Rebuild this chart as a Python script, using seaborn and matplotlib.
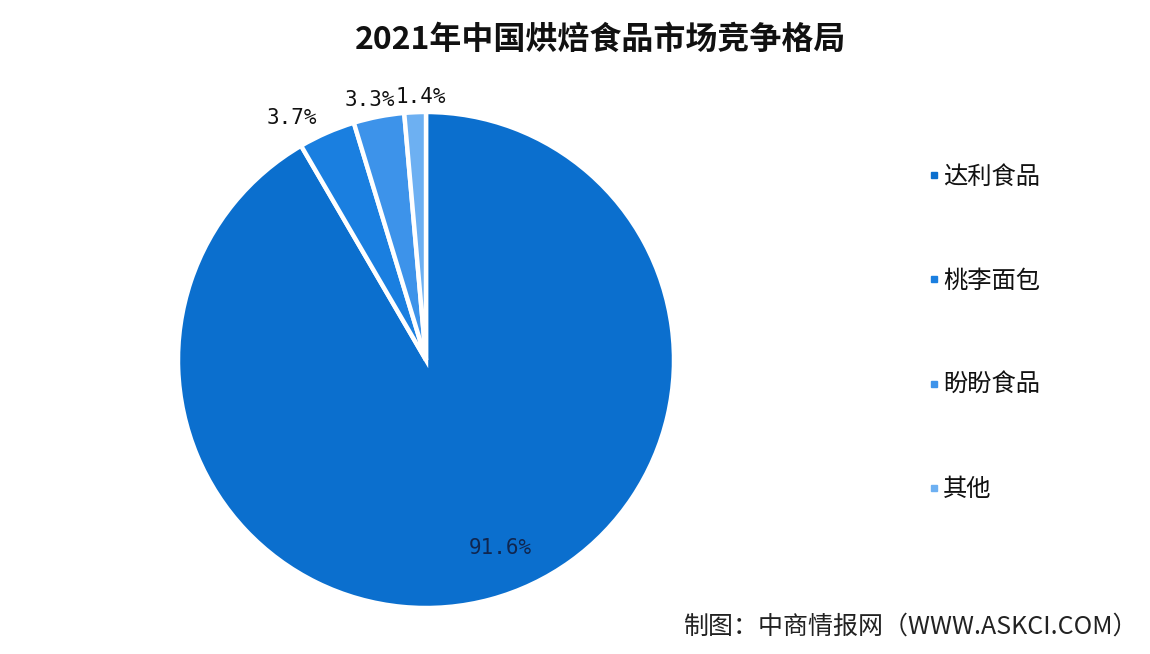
import matplotlib
matplotlib.use("Agg")
import matplotlib.pyplot as plt
from matplotlib.lines import Line2D
import seaborn as sns

categories = ["达利食品", "桃李面包", "盼盼食品", "其他"]
shares = [91.6, 3.7, 3.3, 1.4]
pct_labels = ["91.6%", "3.7%", "3.3%", "1.4%"]
colors = ["#0B6FCE", "#1A7FE0", "#3D93EA", "#6DB0F2"]

sns.set_theme(style="white")
plt.rcParams["font.family"] = ["Noto Sans CJK SC", "DejaVu Sans"]

fig = plt.figure(figsize=(11.5, 6.54), dpi=100)
fig.patch.set_facecolor("white")

W, H = 1150, 654
cx, cy, r = 426, 360, 248
ax = fig.add_axes([(cx - r) / W, (H - cy - r) / H, 2 * r / W, 2 * r / H])

wedges, _ = ax.pie(
    shares,
    colors=colors,
    startangle=90,
    counterclock=False,
    radius=1.0,
    wedgeprops=dict(edgecolor="white", linewidth=3.2),
)
ax.set_xlim(-1, 1)
ax.set_ylim(-1, 1)
ax.set_aspect("equal")
ax.axis("off")

label_pos = [(0.30, -0.76), (-0.54, 0.976), (-0.228, 1.048), (-0.02, 1.06)]
label_colors = ["#10264f", "#111111", "#111111", "#111111"]
for txt, (lx, ly), lc in zip(pct_labels, label_pos, label_colors):
    ax.text(lx, ly, txt, ha="center", va="center", fontsize=15,
            family=["DejaVu Sans Mono"], color=lc, clip_on=False)

fig.text(601 / W, (H - 40) / H, "2021年中国烘焙食品市场竞争格局", ha="center", va="center",
         fontsize=23, fontweight="bold", color="#111111")

handles = [Line2D([0], [0], marker="s", linestyle="none", markersize=4.5,
                  markerfacecolor=c, markeredgecolor=c) for c in colors]
fig.legend(handles, categories, loc="center left",
           bbox_to_anchor=(906 / W, (H - 333) / H), frameon=False,
           fontsize=17.5, labelspacing=3.22, handlelength=0.5, handletextpad=0.12,
           labelcolor="#111111")

fig.text(1138 / W, (H - 627) / H, "制图：中商情报网（WWW.ASKCI.COM）",
         ha="right", va="center", fontsize=18, color="#222222")

fig.savefig("out.png", dpi=100, facecolor="white")
